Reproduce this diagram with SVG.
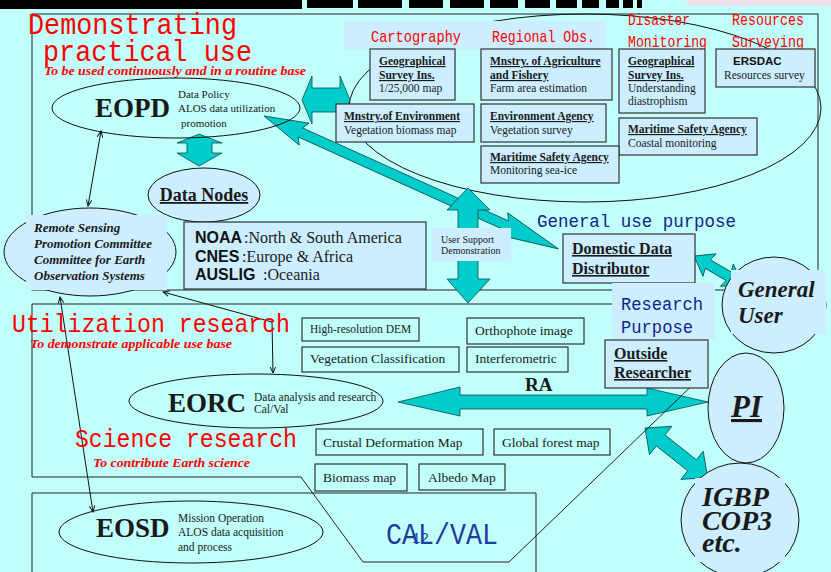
<svg xmlns="http://www.w3.org/2000/svg" width="831" height="572" viewBox="0 0 831 572">
<defs>
<style>
.bgc{fill:#c0fffa}
.bk{fill:#000}
.frame{fill:none;stroke:#222;stroke-width:1}
.box{fill:#cceeff;stroke:#333;stroke-width:1.2}
.obox{fill:none;stroke:#333;stroke-width:1.2}
.lb{fill:#cceeff;stroke:none}
.ell{fill:#cceeff;stroke:#111;stroke-width:1}
.ell0{fill:none;stroke:#111;stroke-width:1}
.teal{fill:#00cccc;stroke:#0b4f4f;stroke-width:0.8}
.con{fill:none;stroke:#111;stroke-width:1;marker-start:url(#ah);marker-end:url(#ah)}
.s{font-family:"Liberation Serif","Times New Roman",serif;fill:#1a1a1a}
.b{font-weight:bold}
.i{font-style:italic}
.u{text-decoration:underline}
.sans{font-family:"Liberation Sans",Arial,sans-serif;font-weight:bold;fill:#111}
.mono{font-family:"Liberation Mono","DejaVu Sans Mono",monospace}
.red{fill:#ff0000}
.navy{fill:#14238c}
.blue{fill:#1f3c9c}
</style>
<marker id="ah" viewBox="0 0 10 10" refX="9" refY="5" markerWidth="7" markerHeight="7" orient="auto-start-reverse">
<path d="M0,1 L9,5 L0,9" fill="none" stroke="#111" stroke-width="1.4"/>
</marker>
</defs>

<rect class="bgc" x="0" y="0" width="831" height="572"/>

<g id="topbar">
<rect class="bk" x="0" y="0" width="302" height="9"/>
<rect class="bk" x="307" y="0" width="46" height="8"/>
<rect class="bk" x="358" y="0" width="44" height="8"/>
<rect class="bk" x="409" y="0" width="34" height="8"/>
<rect class="bk" x="450" y="0" width="34" height="8"/>
<rect class="bk" x="490" y="0" width="28" height="8"/>
<rect class="bk" x="525" y="0" width="25" height="8"/>
<rect class="bk" x="556" y="0" width="21" height="8"/>
<rect class="bk" x="582" y="0" width="17" height="8"/>
<rect class="bk" x="606" y="0" width="13" height="8"/>
<rect class="bk" x="623" y="0" width="10" height="8"/>
<rect class="bk" x="637" y="0" width="5" height="8"/>
<rect x="687" y="0" width="144" height="6" fill="#ece4ec"/>
</g>

<g id="frames">
<rect class="frame" x="32" y="14" width="786" height="276"/>
<path class="frame" d="M32,575 V493 H536 V575"/>
<ellipse class="ell0" cx="585" cy="108" rx="236" ry="94"/>
</g>

<g id="category-band">
<rect class="lb" x="344" y="21" width="262" height="28"/>
<text class="mono red" x="371" y="42" font-size="17" textLength="90" lengthAdjust="spacingAndGlyphs">Cartography</text>
<text class="mono red" x="492" y="42" font-size="17" textLength="103" lengthAdjust="spacingAndGlyphs">Regional Obs.</text>
<text class="mono red" x="628" y="25" font-size="17" textLength="62" lengthAdjust="spacingAndGlyphs">Disaster</text>
<text class="mono red" x="628" y="47" font-size="17" textLength="79" lengthAdjust="spacingAndGlyphs">Monitoring</text>
<text class="mono red" x="732" y="25" font-size="17" textLength="72" lengthAdjust="spacingAndGlyphs">Resources</text>
<text class="mono red" x="732" y="47" font-size="17" textLength="72" lengthAdjust="spacingAndGlyphs">Surveying</text>
</g>

<g id="connectors">
<path class="teal" d="M302,100 L312,76 L312,88 L340,88 L340,76 L350,100 L340,124 L340,112 L312,112 L312,124 Z"/>
<path class="teal" d="M199,134 L222,143 L212,143 L212,153 L222,153 L199,166 L177,153 L187,153 L187,143 L177,143 Z"/>
<path class="teal" transform="translate(264,116) rotate(24.3)" d="M0,0 L44,-12 L40,-5 L266,-5 L262,-12 L323,0 L262,12 L266,5 L40,5 L44,12 Z"/>
<path class="teal" d="M468,188 L490,210 L478,210 L478,279 L490,279 L468,303 L447,279 L458,279 L458,210 L447,210 Z"/>
<path class="teal" transform="translate(694,256) rotate(30.3)" d="M0,0 L18,-13 L16,-5 L40,-5 L38,-13 L56,0 L38,13 L40,5 L16,5 L18,13 Z"/>
<path class="teal" d="M398,402 L460,387 L460,395 L647,395 L647,388 L708,402 L647,416 L647,409 L460,409 L460,416 Z"/>
<path class="teal" transform="translate(645,428) rotate(38.4)" d="M0,0 L20,-18 L20,-7 L60,-7 L60,-18 L80,0 L60,18 L60,7 L20,7 L20,18 Z"/>
<path class="con" d="M101,131 L88,206"/>
<path class="con" d="M163,292 L272,322 L273,373"/>
<path class="con" d="M60,297 L93,512"/>
<path class="frame" d="M32,304 H705 V373 L509,562 H363 L301,477 H32 Z"/>
</g>

<g id="titles">
<text class="mono red" x="28" y="34" font-size="30" textLength="209" lengthAdjust="spacingAndGlyphs">Demonstrating</text>
<text class="mono red" x="43" y="61" font-size="30" textLength="209" lengthAdjust="spacingAndGlyphs">practical use</text>
<text class="s b i red" x="44" y="75" font-size="12" textLength="262" lengthAdjust="spacingAndGlyphs">To be used continuously and in a routine base</text>
<text class="mono red" x="12" y="332" font-size="25" textLength="278" lengthAdjust="spacingAndGlyphs">Utilization research</text>
<text class="s b i red" x="30" y="348" font-size="11.5" textLength="202" lengthAdjust="spacingAndGlyphs">To demonstrate applicable use base</text>
<text class="mono red" x="75" y="447" font-size="25" textLength="222" lengthAdjust="spacingAndGlyphs">Science research</text>
<text class="s b i red" x="93" y="467" font-size="12" textLength="157" lengthAdjust="spacingAndGlyphs">To contribute Earth science</text>
<text class="mono navy" x="537" y="227" font-size="19" textLength="199" lengthAdjust="spacingAndGlyphs">General use purpose</text>
<text class="mono blue" x="386" y="544" font-size="30" textLength="112" lengthAdjust="spacingAndGlyphs">CAL/VAL</text>
<text class="mono blue" x="412" y="543" font-size="14">12</text>
</g>

<g id="gsi-cartography">
<rect class="box" x="370" y="49" width="85" height="51"/>
<text class="s b u" x="379" y="65" font-size="11.5">Geographical</text>
<text class="s b u" x="379" y="79" font-size="11.5">Survey Ins.</text>
<text class="s" x="379" y="92" font-size="11.5">1/25,000 map</text>
</g>
<g id="maff">
<rect class="box" x="481" y="49" width="131" height="51"/>
<text class="s b u" x="490" y="65" font-size="11.5">Mnstry. of Agriculture</text>
<text class="s b u" x="490" y="79" font-size="11.5">and Fishery</text>
<text class="s" x="490" y="92" font-size="11.5">Farm area estimation</text>
</g>
<g id="gsi-disaster">
<rect class="box" x="619" y="49" width="86" height="64"/>
<text class="s b u" x="628" y="65" font-size="11.5">Geographical</text>
<text class="s b u" x="628" y="79" font-size="11.5">Survey Ins.</text>
<text class="s" x="628" y="92" font-size="11.5">Understanding</text>
<text class="s" x="628" y="105" font-size="11.5">diastrophism</text>
</g>
<g id="ersdac">
<rect class="box" x="716" y="49" width="99" height="38"/>
<text class="sans" x="733" y="65" font-size="11.5">ERSDAC</text>
<text class="s" x="724" y="79" font-size="11.5">Resources survey</text>
</g>
<g id="moe">
<rect class="box" x="336" y="104" width="138" height="38"/>
<text class="s b u" x="344" y="120" font-size="11.5">Mnstry.of Environment</text>
<text class="s" x="344" y="134" font-size="11.5">Vegetation biomass map</text>
</g>
<g id="env-agency">
<rect class="box" x="481" y="104" width="125" height="38"/>
<text class="s b u" x="490" y="120" font-size="11.5">Environment Agency</text>
<text class="s" x="490" y="134" font-size="11.5">Vegetation survey</text>
</g>
<g id="msa-coastal">
<rect class="box" x="619" y="118" width="138" height="37"/>
<text class="s b u" x="628" y="133" font-size="11.5">Maritime Safety Agency</text>
<text class="s" x="628" y="147" font-size="11.5">Coastal monitoring</text>
</g>
<g id="msa-seaice">
<rect class="box" x="481" y="146" width="138" height="37"/>
<text class="s b u" x="490" y="161" font-size="11.5">Maritime Safety Agency</text>
<text class="s" x="490" y="174" font-size="11.5">Monitoring sea-ice</text>
</g>

<g id="eopd">
<ellipse class="ell0" cx="176" cy="108" rx="124" ry="30"/>
<text class="s b" x="95" y="117" font-size="27" fill="#000">EOPD</text>
<text class="s" x="178" y="98" font-size="11">Data Policy</text>
<text class="s" x="178" y="112" font-size="11">ALOS data utilization</text>
<text class="s" x="181" y="127" font-size="11">promotion</text>
</g>

<g id="data-nodes">
<ellipse class="ell" cx="204" cy="195" rx="56" ry="27"/>
<text class="s b u" x="204" y="201" font-size="18" text-anchor="middle">Data Nodes</text>
</g>

<g id="remote-sensing">
<ellipse class="ell" cx="90" cy="252" rx="86" ry="44"/>
<rect class="lb" x="26" y="215" width="141" height="75"/>
<text class="s b i" x="34" y="232" font-size="13">Remote Sensing</text>
<text class="s b i" x="34" y="248" font-size="13">Promotion Committee</text>
<text class="s b i" x="34" y="264" font-size="13">Committee for Earth</text>
<text class="s b i" x="34" y="280" font-size="13">Observation Systems</text>
</g>

<g id="data-nodes-list">
<rect class="box" x="184" y="222" width="242" height="67"/>
<text class="sans" x="195" y="243" font-size="16">NOAA</text>
<text class="s" x="244" y="243" font-size="16">:North &amp; South America</text>
<text class="sans" x="195" y="262" font-size="16">CNES</text>
<text class="s" x="242" y="262" font-size="16">:Europe &amp; Africa</text>
<text class="sans" x="195" y="280" font-size="16">AUSLIG</text>
<text class="s" x="263" y="280" font-size="16">:Oceania</text>
</g>

<g id="user-support">
<rect class="lb" x="432" y="228" width="79" height="33"/>
<text class="s" x="441" y="243" font-size="10" fill="#333">User Support</text>
<text class="s" x="441" y="254" font-size="10" fill="#333">Demonstration</text>
</g>

<g id="domestic">
<rect class="box" x="563" y="234" width="132" height="49"/>
<text class="s b u" x="572" y="254" font-size="16">Domestic Data</text>
<text class="s b u" x="572" y="274" font-size="16">Distributor</text>
</g>

<g id="general-user">
<ellipse class="ell" cx="774" cy="305" rx="52" ry="48"/>
<rect class="lb" x="731" y="270" width="95" height="64"/>
<text class="s b i" x="738" y="297" font-size="23">General</text>
<text class="s b i" x="738" y="323" font-size="23">User</text>
</g>

<g id="research-purpose">
<rect class="lb" x="612" y="283" width="103" height="57"/>
<text class="mono navy" x="621" y="310" font-size="19" textLength="82" lengthAdjust="spacingAndGlyphs">Research</text>
<text class="mono navy" x="621" y="333" font-size="19" textLength="72" lengthAdjust="spacingAndGlyphs">Purpose</text>
</g>

<g id="outside-researcher">
<rect class="box" x="605" y="340" width="103" height="48"/>
<text class="s b u" x="614" y="359" font-size="16">Outside</text>
<text class="s b u" x="614" y="378" font-size="16">Researcher</text>
</g>

<g id="products-utilization">
<rect class="obox" x="302" y="318" width="117" height="23"/>
<text class="s" x="310" y="333" font-size="11.5">High-resolution DEM</text>
<rect class="obox" x="467" y="318" width="117" height="26"/>
<text class="s" x="475" y="335" font-size="13.5">Orthophote image</text>
<rect class="obox" x="302" y="347" width="157" height="25"/>
<text class="s" x="310" y="363" font-size="13.5">Vegetation Classification</text>
<rect class="obox" x="467" y="347" width="101" height="25"/>
<text class="s" x="475" y="363" font-size="13.5">Interferometric</text>
</g>

<g id="ra-label">
<text class="s b" x="525" y="391" font-size="19" fill="#000">RA</text>
</g>

<g id="eorc">
<ellipse class="ell0" cx="256" cy="401" rx="127" ry="27"/>
<text class="s b" x="168" y="412" font-size="27" fill="#000">EORC</text>
<text class="s" x="254" y="401" font-size="11.5">Data analysis and research</text>
<text class="s" x="254" y="413" font-size="11.5">Cal/Val</text>
</g>

<g id="products-science">
<rect class="obox" x="316" y="429" width="167" height="26"/>
<text class="s" x="323" y="447" font-size="13.5">Crustal Deformation Map</text>
<rect class="obox" x="494" y="429" width="116" height="26"/>
<text class="s" x="502" y="447" font-size="13.5">Global forest map</text>
<rect class="obox" x="315" y="464" width="92" height="27"/>
<text class="s" x="323" y="482" font-size="13.5">Biomass map</text>
<rect class="obox" x="419" y="464" width="86" height="26"/>
<text class="s" x="428" y="482" font-size="13.5">Albedo Map</text>
</g>

<g id="eosd">
<ellipse class="ell0" cx="191" cy="532" rx="132" ry="31"/>
<text class="s b" x="96" y="537" font-size="27" fill="#000">EOSD</text>
<text class="s" x="178" y="522" font-size="11.5">Mission Operation</text>
<text class="s" x="178" y="536" font-size="11.5">ALOS data acquisition</text>
<text class="s" x="178" y="551" font-size="11.5">and process</text>
</g>

<g id="pi">
<ellipse class="ell" cx="746" cy="408" rx="38" ry="55"/>
<text class="s b i u" x="731" y="417" font-size="31">PI</text>
</g>

<g id="igbp">
<ellipse class="ell" cx="740" cy="520" rx="59" ry="57"/>
<rect class="lb" x="695" y="478" width="90" height="84"/>
<text class="s b i" x="702" y="506" font-size="28">IGBP</text>
<text class="s b i" x="702" y="530" font-size="28">COP3</text>
<text class="s b i" x="702" y="552" font-size="28">etc.</text>
</g>
</svg>
